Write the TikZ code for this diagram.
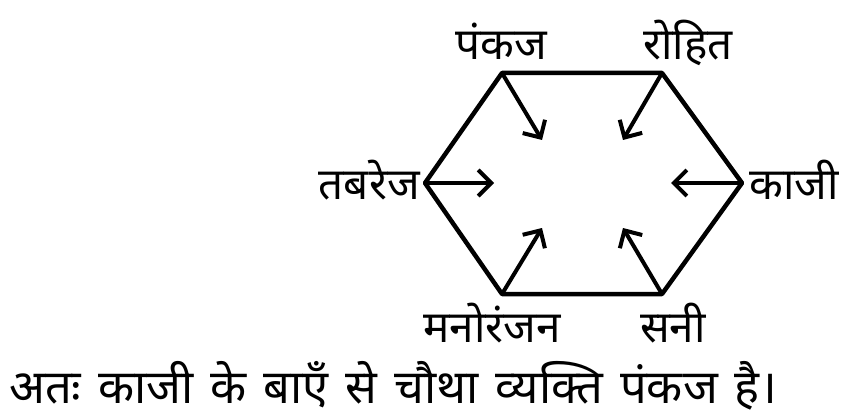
\documentclass[tikz,border=0pt]{standalone}
\usepackage{fontspec}
\newfontfamily\hindi[Script=Devanagari]{Noto Sans}
\usetikzlibrary{arrows.meta}
\begin{document}
\begin{tikzpicture}[x=1pt, y=-1pt, line width=4.5pt, line join=round, line cap=round,
  font=\hindi\fontsize{44}{50}\selectfont, >={Straight Barb[length=13pt,width=26pt]}]
 \useasboundingbox (0,0) rectangle (841,417);
 \coordinate (pankaj) at (502,73);
 \coordinate (rohit) at (662,73);
 \coordinate (kaji) at (742,183);
 \coordinate (sani) at (662,294);
 \coordinate (manoranjan) at (502,294);
 \coordinate (tabrez) at (425,183);
 \draw (pankaj)--(rohit)--(kaji)--(sani)--(manoranjan)--(tabrez)--cycle;
 % inward arrows
 \coordinate (pankajin) at (542,140);
 \coordinate (rohitin) at (623,140);
 \coordinate (kajiin) at (671,183);
 \coordinate (saniin) at (623,228);
 \coordinate (manoranjanin) at (542,228);
 \coordinate (tabrezin) at (494,183);
 \foreach \v in {pankaj,rohit,kaji,sani,manoranjan,tabrez}
  \draw[->, line width=4pt, line cap=butt] (\v)--(\v in);
 % names
 \node[anchor=base, inner sep=0pt] (pankajlbl) at (501,60) {पंकज};
 \node[anchor=base, inner sep=0pt] (rohitlbl) at (688,60) {रोहित};
 \node[anchor=base west, inner sep=0pt] (kajilbl) at (747,200) {काजी};
 \node[anchor=base east, inner sep=0pt] (tabrezlbl) at (422,200) {तबरेज};
 \node[anchor=base, inner sep=0pt] (manoranjanlbl) at (492,342) {मनोरंजन};
 \node[anchor=base, inner sep=0pt] (sanilbl) at (673,342) {सनी};
 \node[anchor=base west, inner sep=0pt, font=\hindi\fontsize{47}{54}\selectfont] (result) at (7,403)
  {\spaceskip=17pt अतः काजी के बाएँ से चौथा व्यक्ति पंकज है।};
\end{tikzpicture}
\end{document}
